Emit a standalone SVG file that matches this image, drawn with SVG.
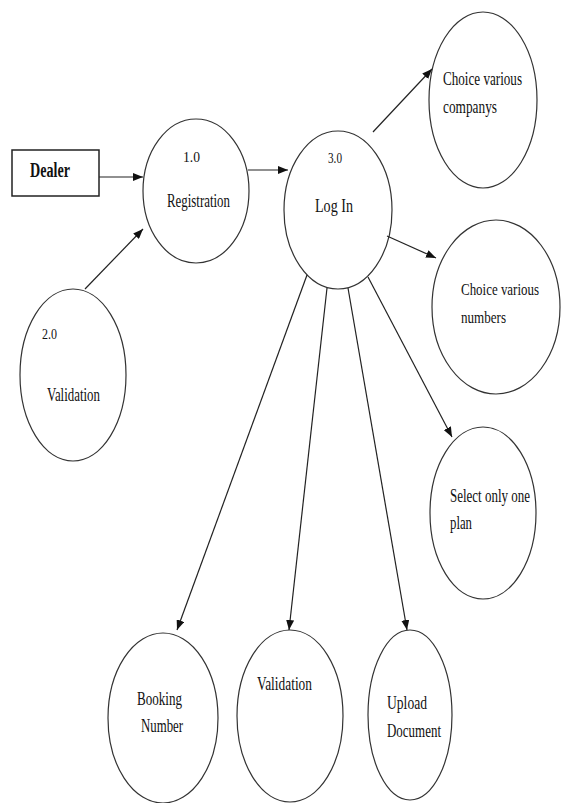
<svg xmlns="http://www.w3.org/2000/svg" width="561" height="803" viewBox="0 0 561 803">
<defs>
<marker id="ah" markerWidth="10" markerHeight="8" refX="10" refY="4" orient="auto" markerUnits="userSpaceOnUse">
<path d="M0,0 L10,4 L0,8 Z" fill="#111"/>
</marker>
</defs>
<style>
.n{fill:#fff;stroke:#333;stroke-width:1.2}
.t{font-family:"Liberation Serif","Times New Roman",serif;font-size:18px;fill:#111}
.s{font-family:"Liberation Serif","Times New Roman",serif;font-size:15px;fill:#111}
.c line{stroke:#222;stroke-width:1.2;marker-end:url(#ah)}
</style>
<rect width="561" height="803" fill="#fff"/>
<g id="dealer">
<rect x="12" y="150" width="87" height="46" fill="#fff" stroke="#222" stroke-width="1.5"/>
<text class="t" x="30" y="177" style="font-size:20px;font-weight:bold" textLength="40" lengthAdjust="spacingAndGlyphs">Dealer</text>
</g>
<g id="registration">
<ellipse class="n" cx="196" cy="191" rx="53" ry="72"/>
<text class="s" x="183" y="162" textLength="17" lengthAdjust="spacingAndGlyphs">1.0</text>
<text class="t" x="167" y="207" textLength="63" lengthAdjust="spacingAndGlyphs">Registration</text>
</g>
<g id="validation1">
<ellipse class="n" cx="73" cy="375" rx="53" ry="86"/>
<text class="s" x="42" y="339" textLength="15" lengthAdjust="spacingAndGlyphs">2.0</text>
<text class="t" x="47" y="401" textLength="53" lengthAdjust="spacingAndGlyphs">Validation</text>
</g>
<g id="login">
<ellipse class="n" cx="338" cy="210" rx="54" ry="79"/>
<text class="s" x="328" y="163" textLength="14" lengthAdjust="spacingAndGlyphs">3.0</text>
<text class="t" x="315" y="212" textLength="38" lengthAdjust="spacingAndGlyphs">Log In</text>
</g>
<g id="companys">
<ellipse class="n" cx="483" cy="100" rx="54" ry="88"/>
<text class="t" x="443" y="85" textLength="79" lengthAdjust="spacingAndGlyphs">Choice various</text>
<text class="t" x="443" y="113" textLength="54" lengthAdjust="spacingAndGlyphs">companys</text>
</g>
<g id="numbers">
<ellipse class="n" cx="496" cy="307" rx="64" ry="87"/>
<text class="t" x="461" y="295" style="font-size:16px" textLength="78" lengthAdjust="spacingAndGlyphs">Choice various</text>
<text class="t" x="461" y="323" style="font-size:16px" textLength="45" lengthAdjust="spacingAndGlyphs">numbers</text>
</g>
<g id="plan">
<ellipse class="n" cx="483" cy="513" rx="53" ry="86"/>
<text class="t" x="450" y="502" textLength="80" lengthAdjust="spacingAndGlyphs">Select only one</text>
<text class="t" x="450" y="529" textLength="22" lengthAdjust="spacingAndGlyphs">plan</text>
</g>
<g id="booking">
<ellipse class="n" cx="163" cy="718" rx="55" ry="85"/>
<text class="t" x="137" y="705" textLength="45" lengthAdjust="spacingAndGlyphs">Booking</text>
<text class="t" x="141" y="732" textLength="42" lengthAdjust="spacingAndGlyphs">Number</text>
</g>
<g id="validation2">
<ellipse class="n" cx="290" cy="716" rx="53" ry="86"/>
<text class="t" x="257" y="690" textLength="55" lengthAdjust="spacingAndGlyphs">Validation</text>
</g>
<g id="upload">
<ellipse class="n" cx="410" cy="715" rx="42" ry="85"/>
<text class="t" x="387" y="709" textLength="40" lengthAdjust="spacingAndGlyphs">Upload</text>
<text class="t" x="387" y="737" textLength="54" lengthAdjust="spacingAndGlyphs">Document</text>
</g>
<g id="connectors" class="c">
<line x1="99" y1="177" x2="143" y2="177"/>
<line x1="248" y1="170" x2="288" y2="170"/>
<line x1="85" y1="289" x2="143" y2="229"/>
<line x1="373" y1="132" x2="432" y2="69"/>
<line x1="387" y1="236" x2="436" y2="258"/>
<line x1="368" y1="277" x2="452" y2="437"/>
<line x1="307" y1="275" x2="177" y2="630"/>
<line x1="327" y1="288" x2="289" y2="630"/>
<line x1="348" y1="288" x2="407" y2="630"/>
</g>
</svg>
